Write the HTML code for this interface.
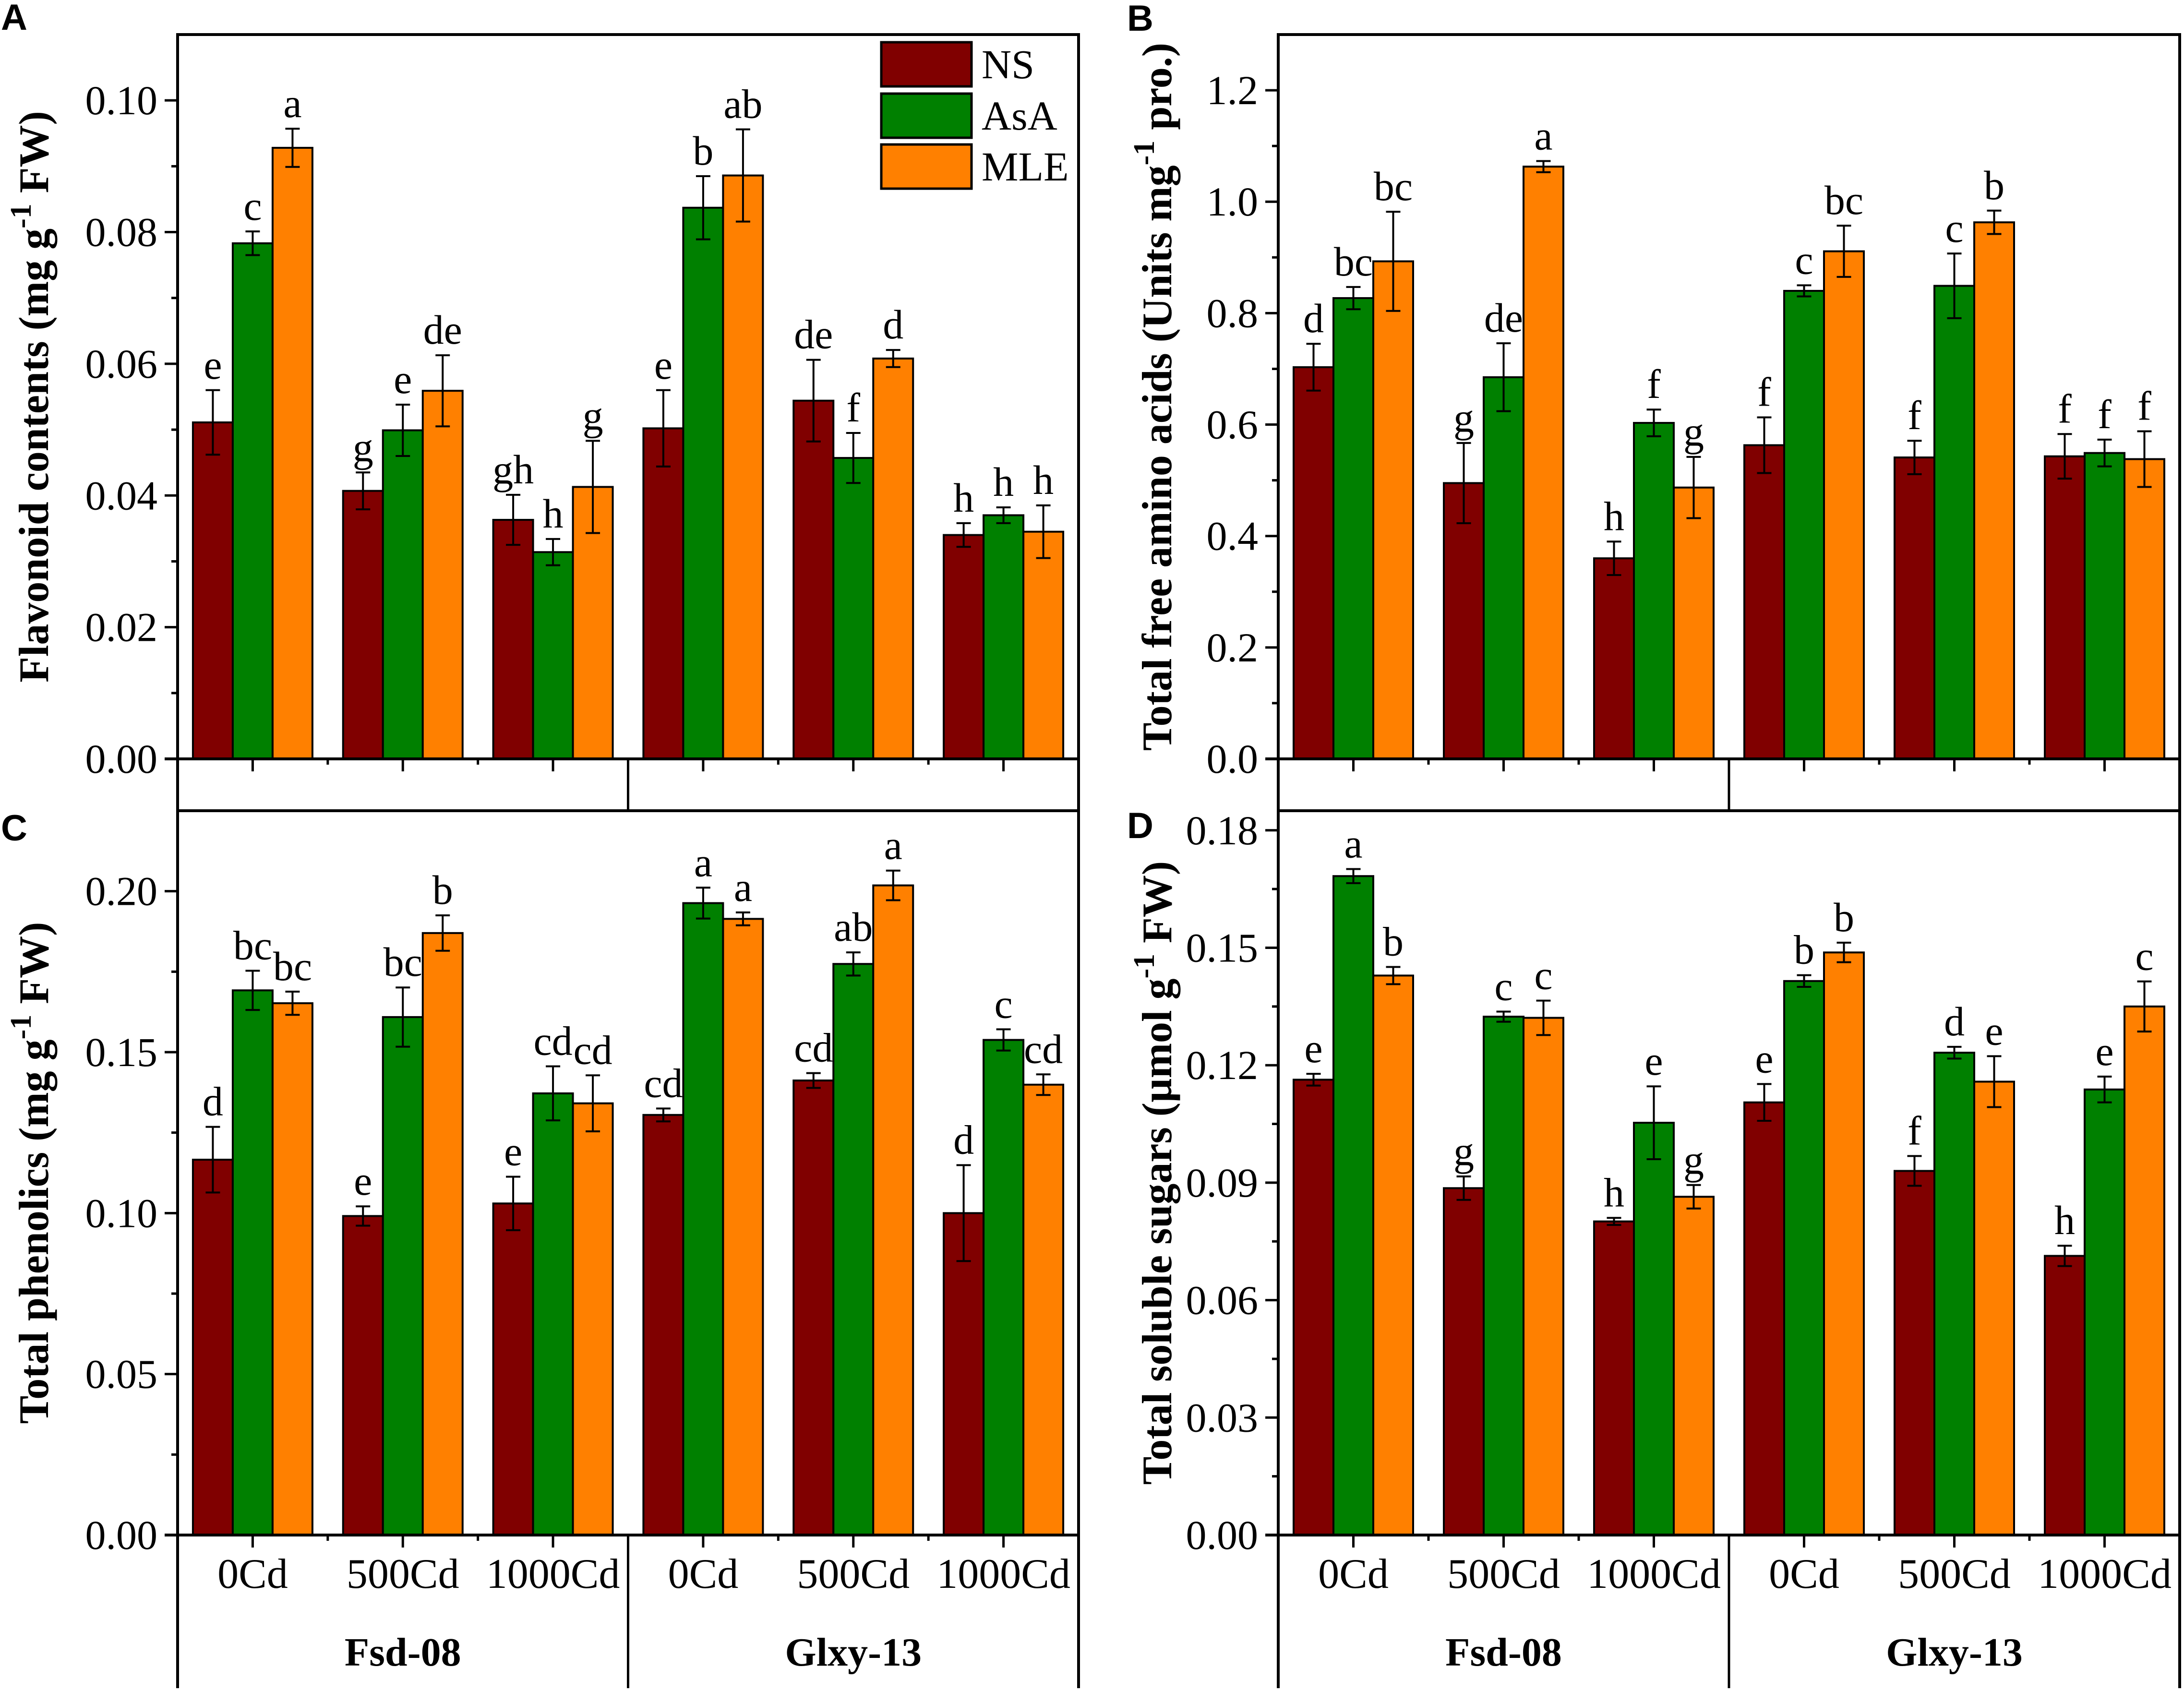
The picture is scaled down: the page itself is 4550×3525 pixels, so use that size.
<!DOCTYPE html>
<html><head><meta charset="utf-8"><style>
html,body{margin:0;padding:0;background:#fff}
svg{display:block}
text{font-family:"Liberation Serif","Times New Roman",serif}
</style></head><body>
<svg id="fig" xmlns="http://www.w3.org/2000/svg" width="4550" height="3525" viewBox="0 0 4550 3525"></svg>
<script>
// ---- data ----
const categories = ["0Cd","500Cd","1000Cd","0Cd","500Cd","1000Cd"];
const cultivars = ["Fsd-08","Glxy-13"];
const seriesNames = ["NS","AsA","MLE"];
// Panel A flavonoids
const aNS  = [0.0511,0.0407,0.0363,0.0502,0.0544,0.0340];
const aAsA = [0.0783,0.0499,0.0314,0.0837,0.0457,0.0370];
const aMLE = [0.0928,0.0559,0.0413,0.0886,0.0608,0.0345];
const aErrNS  = [0.0049,0.0028,0.0038,0.0058,0.0062,0.0018];
const aErrAsA = [0.0018,0.0039,0.0020,0.0048,0.0038,0.0012];
const aErrMLE = [0.0029,0.0054,0.0070,0.0070,0.0013,0.0040];
const aLetNS  = ["e","g","gh","e","de","h"];
const aLetAsA = ["c","e","h","b","f","h"];
const aLetMLE = ["a","de","g","ab","d","h"];
const aTicks = ["0.00","0.02","0.04","0.06","0.08","0.10"];
// Panel B amino acids
const bNS  = [0.703,0.495,0.360,0.563,0.541,0.543];
const bAsA = [0.827,0.685,0.603,0.840,0.849,0.549];
const bMLE = [0.893,1.063,0.487,0.911,0.963,0.538];
const bErrNS  = [0.042,0.072,0.030,0.050,0.030,0.040];
const bErrAsA = [0.020,0.061,0.024,0.010,0.058,0.024];
const bErrMLE = [0.089,0.010,0.055,0.046,0.021,0.050];
const bLetNS  = ["d","g","h","f","f","f"];
const bLetAsA = ["bc","de","f","c","c","f"];
const bLetMLE = ["bc","a","g","bc","b","f"];
const bTicks = ["0.0","0.2","0.4","0.6","0.8","1.0","1.2"];
// Panel C phenolics
const cNS  = [0.1166,0.0991,0.1030,0.1305,0.1412,0.1000];
const cAsA = [0.1692,0.1609,0.1372,0.1963,0.1774,0.1538];
const cMLE = [0.1652,0.1870,0.1341,0.1914,0.2018,0.1399];
const cErrNS  = [0.0102,0.0030,0.0083,0.0020,0.0023,0.0149];
const cErrAsA = [0.0061,0.0092,0.0084,0.0048,0.0036,0.0033];
const cErrMLE = [0.0036,0.0055,0.0087,0.0020,0.0046,0.0032];
const cLetNS  = ["d","e","e","cd","cd","d"];
const cLetAsA = ["bc","bc","cd","a","ab","c"];
const cLetMLE = ["bc","b","cd","a","a","cd"];
const cTicks = ["0.00","0.05","0.10","0.15","0.20"];
// Panel D sugars
const dNS  = [0.1163,0.0886,0.0801,0.1105,0.0930,0.0713];
const dAsA = [0.1683,0.1324,0.1053,0.1415,0.1232,0.1138];
const dMLE = [0.1429,0.1321,0.0864,0.1488,0.1158,0.1350];
const dErrNS  = [0.0015,0.0030,0.0009,0.0047,0.0038,0.0026];
const dErrAsA = [0.0018,0.0013,0.0093,0.0015,0.0015,0.0033];
const dErrMLE = [0.0022,0.0044,0.0030,0.0025,0.0065,0.0064];
const dLetNS  = ["e","g","h","e","f","h"];
const dLetAsA = ["a","c","e","b","d","e"];
const dLetMLE = ["b","c","g","b","e","c"];
const dTicks = ["0.00","0.03","0.06","0.09","0.12","0.15","0.18"];

const colors = ["#800000","#008000","#ff8000"];
const NS = "http://www.w3.org/2000/svg";
const svg = document.getElementById('fig');
function mk(tag, attrs, parent, txt){
  const e = document.createElementNS(NS, tag);
  for (const k in attrs) e.setAttribute(k, attrs[k]);
  if (txt !== undefined) e.textContent = txt;
  (parent||svg).appendChild(e);
  return e;
}

function panel(cfg){
  const g = mk('g', {});
  
  
  const x0=cfg.x0, x1=cfg.x1, top=cfg.top, base=cfg.base, bot=cfg.bot;
  const yS = v => base - v/cfg.ymax*(base-top);
  const gw = (x1-x0)/6, bw = 83;
  const vals=[cfg.v0,cfg.v1,cfg.v2], errs=[cfg.e0,cfg.e1,cfg.e2], lets=[cfg.l0,cfg.l1,cfg.l2];
  for (let i=0;i<6;i++){
    const c = x0+(i+0.5)*gw;
    for (let j=0;j<3;j++){
      const bx = c+(j-1)*bw-bw/2, v=vals[j][i], e=errs[j][i];
      const r = mk('rect',{x:bx,y:yS(v),width:bw,height:base-yS(v),fill:colors[j],stroke:'#000','stroke-width':4},g);
      
      
      const cx = bx+bw/2, yt=yS(v+e), yb=yS(v-e);
      const eb = mk('path',{d:`M${cx},${yt}V${yb}M${cx-15},${yt}H${cx+15}M${cx-15},${yb}H${cx+15}`,stroke:'#000','stroke-width':4,fill:'none'},g);
      
      
      const t = mk('text',{x:cx,y:yt-24,'font-size':86,'text-anchor':'middle'},g,lets[j][i]);
      
      
    }
  }
  const lw=6;
  mk('path',{d:`M${x0},${top}H${x1}M${x1},${top-3}V${bot}M${x0},${top-3}V${bot}M${x0-27},${base}H${x1}`+(cfg.closeBot?`M${x0},${bot}H${x1}`:''),stroke:'#000','stroke-width':lw,fill:'none'},g);
  const mid=(x0+x1)/2;
  mk('path',{d:`M${mid},${base}V${bot}`,stroke:'#000','stroke-width':5,fill:'none'},g);
  let xd='';
  for (let i=0;i<6;i++){ const c=x0+(i+0.5)*gw; xd+=`M${c},${base}v26`; if(i>0&&i!==3) xd+=`M${x0+i*gw},${base}v12`; }
  mk('path',{d:xd,stroke:'#000','stroke-width':5},g);
  let yd='';
  const n=cfg.ticks.length;
  for (let k=0;k<n;k++){
    const v=parseFloat(cfg.ticks[k]); const y=yS(v);
    yd+=`M${x0-27},${y}H${x0}`;
    const t=mk('text',{x:x0-42,y:y+29,'font-size':86,'text-anchor':'end'},g,cfg.ticks[k]);
    
    
    const vm=v+cfg.step/2;
    if (vm<cfg.ymax) yd+=`M${x0-13},${yS(vm)}H${x0}`;
  }
  mk('path',{d:yd,stroke:'#000','stroke-width':5},g);
  const ty=(top+base)/2;
  const tt=mk('text',{transform:`translate(${cfg.titleX},${ty}) rotate(-90)`,'font-size':88,'font-weight':'bold','text-anchor':'middle'},g);
  
  
  mk('tspan',{},tt,cfg.t1);
  mk('tspan',{dy:-36,'font-size':62},tt,'-1');
  mk('tspan',{dy:36},tt,cfg.t2);
  const pl=mk('text',{x:cfg.lx,y:cfg.ly,'font-size':76,'font-weight':'bold',style:'font-family:"Liberation Sans",sans-serif'},g,cfg.letter);
  
  
  if (cfg.labels){
    for (let i=0;i<6;i++){
      const c=x0+(i+0.5)*gw;
      const t=mk('text',{x:c,y:3308,'font-size':88,'text-anchor':'middle'},g,categories[i]);
      
      
    }
    for (let k=0;k<2;k++){
      const t=mk('text',{x:x0+(k*3+1.5)*gw,y:3470,'font-size':84,'font-weight':'bold','text-anchor':'middle'},g,cultivars[k]);
      
      
    }
  }
}

panel({name:'panel-a-flavonoid',x0:370,x1:2247,top:72,base:1581,bot:1689,closeBot:true,ymax:0.11,ticks:aTicks,step:0.02,
  v0:aNS,v1:aAsA,v2:aMLE,e0:aErrNS,e1:aErrAsA,e2:aErrMLE,l0:aLetNS,l1:aLetAsA,l2:aLetMLE,
  titleX:100,t1:'Flavonoid contents (mg g',t2:' FW)',letter:'A',lx:2,ly:62});
panel({name:'panel-b-amino-acids',x0:2663,x1:4541,top:72,base:1581,bot:1689,closeBot:true,ymax:1.3,ticks:bTicks,step:0.2,
  v0:bNS,v1:bAsA,v2:bMLE,e0:bErrNS,e1:bErrAsA,e2:bErrMLE,l0:bLetNS,l1:bLetAsA,l2:bLetMLE,
  titleX:2440,t1:'Total free amino acids (Units mg',t2:' pro.)',letter:'B',lx:2348,ly:64});
panel({name:'panel-c-phenolics',x0:370,x1:2247,top:1689,base:3198,bot:3517,closeBot:false,ymax:0.225,ticks:cTicks,step:0.05,labels:true,
  v0:cNS,v1:cAsA,v2:cMLE,e0:cErrNS,e1:cErrAsA,e2:cErrMLE,l0:cLetNS,l1:cLetAsA,l2:cLetMLE,
  titleX:100,t1:'Total phenolics (mg g',t2:' FW)',letter:'C',lx:2,ly:1751});
panel({name:'panel-d-sugars',x0:2663,x1:4541,top:1689,base:3198,bot:3517,closeBot:false,ymax:0.185,ticks:dTicks,step:0.03,labels:true,
  v0:dNS,v1:dAsA,v2:dMLE,e0:dErrNS,e1:dErrAsA,e2:dErrMLE,l0:dLetNS,l1:dLetAsA,l2:dLetMLE,
  titleX:2440,t1:'Total soluble sugars (\u00b5mol g',t2:' FW)',letter:'D',lx:2348,ly:1746});

const lg = mk('g',{});


const legY=[88,195,301];
for (let j=0;j<3;j++){
  const r=mk('rect',{x:1836,y:legY[j],width:188,height:92,fill:colors[j],stroke:'#000','stroke-width':5},lg);
  
  
  const t=mk('text',{x:2045,y:legY[j]+75,'font-size':86},lg,seriesNames[j]);
  
  
}
</script>
</body></html>
